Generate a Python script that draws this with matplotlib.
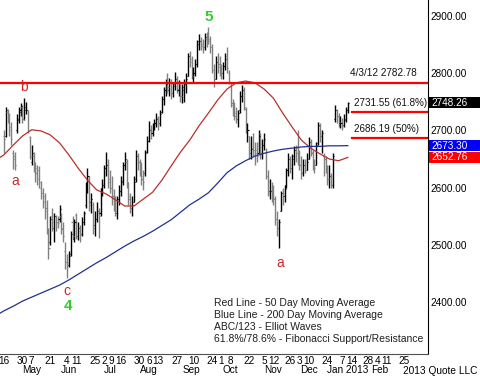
import numpy as np
import pandas as pd
import matplotlib
matplotlib.use("Agg")
import matplotlib.pyplot as plt
from matplotlib.patches import Rectangle
from matplotlib.transforms import blended_transform_factory

plt.rcParams['font.family'] = ['Liberation Sans', 'DejaVu Sans']

# daily bars, one per trading day from 2012-04-16 to 2013-01-11
opens = [2690, 2690, 2732, 2725, 2705, 2660, 2655, 2700, 2718, 2735,
         2740, 2720, 2735, 2735, 2688, 2645, 2655, 2630, 2635, 2615,
         2600, 2590, 2585, 2565, 2525, 2505, 2550, 2530, 2550, 2540,
         2545, 2550, 2530, 2490, 2470, 2465, 2485, 2540, 2510, 2552,
         2515, 2525, 2520, 2540, 2570, 2600, 2615, 2575, 2570, 2535,
         2545, 2555, 2555, 2600, 2605, 2635, 2640, 2615, 2600, 2585,
         2570, 2555, 2580, 2595, 2610, 2640, 2645, 2605, 2585, 2565,
         2575, 2615, 2655, 2645, 2630, 2620, 2625, 2662, 2682, 2700,
         2695, 2705, 2712, 2722, 2712, 2732, 2755, 2770, 2785, 2770,
         2785, 2765, 2780, 2790, 2770, 2780, 2760, 2775, 2780, 2795,
         2830, 2820, 2795, 2800, 2815, 2855, 2855, 2848, 2845, 2860,
         2865, 2855, 2845, 2805, 2790, 2820, 2815, 2805, 2800, 2812,
         2830, 2800, 2785, 2748, 2735, 2730, 2720, 2735, 2760, 2770,
         2738, 2700, 2690, 2660, 2670, 2665, 2665, 2660, 2695, 2660,
         2675, 2660, 2620, 2595, 2595, 2590, 2580, 2545, 2530, 2560,
         2590, 2585, 2605, 2630, 2650, 2635, 2655, 2665, 2670, 2650,
         2640, 2625, 2640, 2630, 2650, 2680, 2660, 2640, 2640, 2678,
         2708, 2690, 2655, 2650, 2630, 2615, 2620, 2605, 2720, 2735,
         2725, 2712, 2712, 2710, 2720, 2735]
highs = [2700, 2740, 2738, 2730, 2715, 2665, 2662, 2728, 2740, 2748,
         2745, 2756, 2750, 2735, 2690, 2675, 2662, 2645, 2640, 2638,
         2612, 2600, 2590, 2578, 2530, 2550, 2565, 2555, 2552, 2550,
         2570, 2555, 2540, 2505, 2485, 2490, 2525, 2550, 2545, 2555,
         2540, 2535, 2548, 2560, 2610, 2635, 2620, 2590, 2575, 2560,
         2575, 2565, 2600, 2615, 2640, 2662, 2650, 2630, 2620, 2598,
         2585, 2585, 2605, 2620, 2645, 2662, 2650, 2610, 2590, 2585,
         2620, 2665, 2660, 2650, 2645, 2630, 2665, 2690, 2717, 2710,
         2712, 2720, 2730, 2725, 2735, 2760, 2776, 2790, 2800, 2792,
         2790, 2785, 2802, 2795, 2788, 2785, 2780, 2790, 2800, 2835,
         2838, 2830, 2810, 2825, 2858, 2868, 2862, 2860, 2870, 2872,
         2880, 2865, 2850, 2815, 2830, 2835, 2830, 2815, 2820, 2835,
         2846, 2805, 2785, 2755, 2750, 2740, 2735, 2768, 2779, 2775,
         2740, 2712, 2690, 2690, 2695, 2680, 2680, 2700, 2695, 2685,
         2695, 2670, 2630, 2615, 2610, 2605, 2585, 2560, 2545, 2595,
         2600, 2605, 2635, 2660, 2655, 2658, 2672, 2675, 2700, 2665,
         2655, 2650, 2650, 2660, 2688, 2685, 2665, 2650, 2680, 2715,
         2712, 2700, 2660, 2655, 2640, 2640, 2625, 2660, 2745, 2738,
         2730, 2725, 2722, 2728, 2740, 2750]
lows = [2660, 2688, 2712, 2690, 2675, 2632, 2630, 2695, 2712, 2725,
        2712, 2718, 2728, 2695, 2650, 2640, 2628, 2610, 2605, 2600,
        2580, 2565, 2545, 2520, 2475, 2500, 2525, 2505, 2525, 2530,
        2540, 2520, 2505, 2458, 2443, 2462, 2480, 2510, 2505, 2510,
        2508, 2505, 2515, 2535, 2565, 2590, 2560, 2555, 2520, 2515,
        2540, 2512, 2550, 2585, 2600, 2620, 2600, 2590, 2570, 2560,
        2550, 2545, 2570, 2585, 2605, 2630, 2600, 2570, 2555, 2550,
        2575, 2610, 2630, 2620, 2605, 2596, 2620, 2660, 2680, 2685,
        2690, 2700, 2705, 2700, 2708, 2730, 2745, 2760, 2765, 2760,
        2755, 2758, 2770, 2765, 2760, 2750, 2748, 2750, 2765, 2795,
        2810, 2790, 2785, 2795, 2810, 2840, 2840, 2835, 2840, 2845,
        2850, 2835, 2800, 2775, 2790, 2800, 2795, 2790, 2790, 2805,
        2800, 2780, 2740, 2725, 2718, 2713, 2705, 2730, 2750, 2735,
        2695, 2680, 2650, 2650, 2655, 2640, 2645, 2660, 2650, 2650,
        2665, 2615, 2585, 2580, 2575, 2570, 2535, 2515, 2495, 2560,
        2570, 2575, 2600, 2620, 2625, 2615, 2640, 2645, 2640, 2630,
        2615, 2620, 2625, 2630, 2650, 2655, 2630, 2625, 2640, 2675,
        2680, 2660, 2620, 2625, 2605, 2600, 2599, 2600, 2715, 2712,
        2705, 2704, 2700, 2706, 2715, 2730]
closes = [2685, 2735, 2725, 2700, 2685, 2650, 2640, 2720, 2732, 2742,
          2720, 2740, 2735, 2700, 2655, 2660, 2640, 2625, 2630, 2610,
          2590, 2575, 2560, 2525, 2495, 2545, 2540, 2550, 2540, 2538,
          2562, 2528, 2515, 2470, 2468, 2480, 2520, 2515, 2540, 2515,
          2530, 2520, 2540, 2555, 2600, 2620, 2570, 2580, 2530, 2545,
          2560, 2550, 2595, 2605, 2635, 2640, 2610, 2600, 2580, 2570,
          2560, 2580, 2595, 2612, 2640, 2650, 2610, 2580, 2565, 2570,
          2610, 2655, 2645, 2630, 2615, 2610, 2660, 2682, 2700, 2698,
          2705, 2712, 2720, 2712, 2728, 2755, 2770, 2780, 2775, 2785,
          2765, 2778, 2790, 2772, 2782, 2760, 2770, 2780, 2790, 2830,
          2825, 2795, 2800, 2815, 2850, 2855, 2850, 2845, 2862, 2858,
          2860, 2845, 2805, 2785, 2820, 2810, 2805, 2800, 2812, 2825,
          2808, 2785, 2745, 2732, 2725, 2720, 2730, 2760, 2770, 2740,
          2700, 2700, 2665, 2668, 2665, 2660, 2655, 2690, 2660, 2675,
          2685, 2620, 2590, 2595, 2590, 2580, 2545, 2530, 2540, 2590,
          2585, 2598, 2630, 2650, 2640, 2650, 2665, 2660, 2650, 2640,
          2625, 2640, 2630, 2645, 2680, 2662, 2640, 2635, 2675, 2710,
          2690, 2695, 2650, 2630, 2615, 2620, 2605, 2655, 2735, 2725,
          2715, 2712, 2708, 2718, 2735, 2748.26]

# moving averages (bar index, value)
ma_idx = [-2, 0, 5, 10, 15, 20, 25, 30, 35, 40, 45, 50, 55, 60, 65, 70, 75,
          80, 85, 90, 95, 100, 105, 110, 115, 120, 125, 130, 135, 140, 145,
          150, 155, 160, 165, 170, 175, 180, 185]
ma50 = [2653, 2657, 2674, 2690, 2701, 2699, 2692, 2678, 2657, 2634, 2613,
        2596, 2589, 2579, 2568, 2568, 2580, 2592, 2613, 2638, 2662, 2683,
        2708, 2730, 2753, 2772, 2783, 2786, 2783, 2772, 2756, 2730, 2706,
        2683, 2669, 2659, 2650, 2647, 2652.76]
ma200 = [2381, 2385, 2393, 2402, 2409, 2416, 2423, 2430, 2439, 2449, 2459,
         2469, 2478, 2488, 2498, 2507, 2515, 2524, 2534, 2544, 2557, 2570,
         2580, 2591, 2608, 2626, 2638, 2647, 2655, 2660, 2664, 2667, 2669,
         2671, 2672, 2672, 2673, 2673, 2673.30]

resist_level = 2782.78
fib_levels = [2731.55, 2686.19]
fib_labels = ['2731.55 (61.8%)', '2686.19 (50%)']
last_close = 2748.26
last_ma200 = 2673.30
last_ma50 = 2652.76

tick_dates = ['2012-04-16', '2012-04-30', '2012-05-07', '2012-05-21', '2012-06-04',
              '2012-06-11', '2012-06-25', '2012-07-02', '2012-07-09', '2012-07-16',
              '2012-07-30', '2012-08-06', '2012-08-13', '2012-08-27', '2012-09-10',
              '2012-09-24', '2012-10-01', '2012-10-08', '2012-10-22', '2012-11-05',
              '2012-11-12', '2012-11-26', '2012-12-03', '2012-12-10', '2012-12-24',
              '2013-01-07', '2013-01-14', '2013-01-28', '2013-02-04', '2013-02-11',
              '2013-02-25']
month_names = ['May', 'Jun', 'Jul', 'Aug', 'Sep', 'Oct', 'Nov', 'Dec', 'Jan 2013', 'Feb']
month_dates = ['2012-05-07', '2012-06-05', '2012-07-06', '2012-08-06', '2012-09-07',
               '2012-10-08', '2012-11-12', '2012-12-10', '2013-01-10', '2013-02-05']

waves = ['b', 'a', 'c', '4', '5', 'a']
wave_idx = [11, 6, 34, 34.5, 110, 148.5]
wave_val = [2776, 2612, 2420, 2394, 2897, 2468]
wave_col = ['#c82828', '#c82828', '#c82828', '#33cc33', '#33cc33', '#c82828']

notes = ['Red Line - 50 Day Moving Average',
         'Blue Line - 200 Day Moving Average',
         'ABC/123 - Elliot Waves',
         '61.8%/78.6% - Fibonacci Support/Resistance']

# trading calendar (weekdays minus market closures)
closed = pd.to_datetime(['2012-05-28', '2012-07-04', '2012-09-03', '2012-10-29',
                         '2012-10-30', '2012-11-22', '2012-12-25', '2013-01-01',
                         '2013-01-21', '2013-02-18'])
days = pd.bdate_range('2012-04-16', '2013-03-29')
days = days[~days.isin(closed)]
pos = {d: i for i, d in enumerate(days)}

fig = plt.figure(figsize=(4.8, 3.77), dpi=100)
ax = fig.add_axes([0, 23 / 377, 428 / 480, 354 / 377])

x = np.arange(len(closes))
o = np.array(opens); h = np.array(highs); l = np.array(lows); c = np.array(closes)
cols = np.where(c >= o, '#000000', '#808080')
ax.vlines(x, l, h, colors=cols, lw=1.0)
ax.hlines(o, x - 0.6, x, colors=cols, lw=0.8)
ax.hlines(c, x, x + 0.6, colors=cols, lw=0.8)

ax.plot(ma_idx, ma50, color='#b8302a', lw=0.9)
ax.plot(ma_idx, ma200, color='#22308f', lw=0.9)

ax.axhline(resist_level, color='#ff0000', lw=1.6)
ax.text(186, resist_level + 8, '4/3/12 %.2f' % resist_level, fontsize=7.2, va='bottom', color='#111111')
for lev, lab in zip(fib_levels, fib_labels):
    ax.axhline(lev, xmin=352 / 428, xmax=1, color='#ff0000', lw=1.6)
    ax.text(188.2, lev + 8, lab, fontsize=7.1, va='bottom', color='#111111')

for t, i, v, col in zip(waves, wave_idx, wave_val, wave_col):
    bold = t.isdigit()
    ax.text(i, v, t, color=col, fontsize=11 if bold else 10,
            fontweight='bold' if bold else 'normal', ha='center', va='center')

for k, line in enumerate(notes):
    ax.text(214 / 428, 1 - (303.5 + 12 * k) / 354, line, transform=ax.transAxes,
            fontsize=7.5, va='center', ha='left', color='#202020')

ax.set_xlim(-2.04, 228.1)
ax.set_ylim(2309.8, 2927.4)

ax.yaxis.tick_right()
ax.set_yticks([2400, 2500, 2600, 2700, 2800, 2900])
ax.set_yticklabels(['%.2f' % v for v in [2400, 2500, 2600, 2700, 2800, 2900]])
ax.tick_params(axis='y', length=0, pad=2, labelsize=7.2)

tpos = [pos[pd.Timestamp(d)] for d in tick_dates]
ax.set_xticks(tpos)
ax.set_xticklabels([str(pd.Timestamp(d).day) for d in tick_dates])
ax.tick_params(axis='x', length=0, pad=1.5, labelsize=7.2)

bt = blended_transform_factory(ax.transData, ax.transAxes)
for name, d in zip(month_names, month_dates):
    ax.text(pos[pd.Timestamp(d)], -16 / 354, name, transform=bt, fontsize=7.2,
            ha='center', va='center', clip_on=False)

rt = blended_transform_factory(ax.transAxes, ax.transData)
for val, fc in [(last_close, '#000000'), (last_ma200, '#0000ff'), (last_ma50, '#ff0000')]:
    ax.add_patch(Rectangle((1.003, val - 9.6), 0.13, 19.2, transform=rt,
                           facecolor=fc, edgecolor='none', clip_on=False, zorder=5))
    ax.text(1.007, val, '%.2f' % val, transform=rt, color='white', fontsize=7.2,
            va='center', ha='left', clip_on=False, zorder=6)

fig.text(403 / 480, 1 - 371.5 / 377, '2013 Quote LLC', fontsize=7.3, va='center', ha='left')

for s in ['left', 'top']:
    ax.spines[s].set_visible(False)
ax.spines['right'].set_color('#000000')
ax.spines['bottom'].set_color('#505050')

fig.savefig('out.png', dpi=100)
